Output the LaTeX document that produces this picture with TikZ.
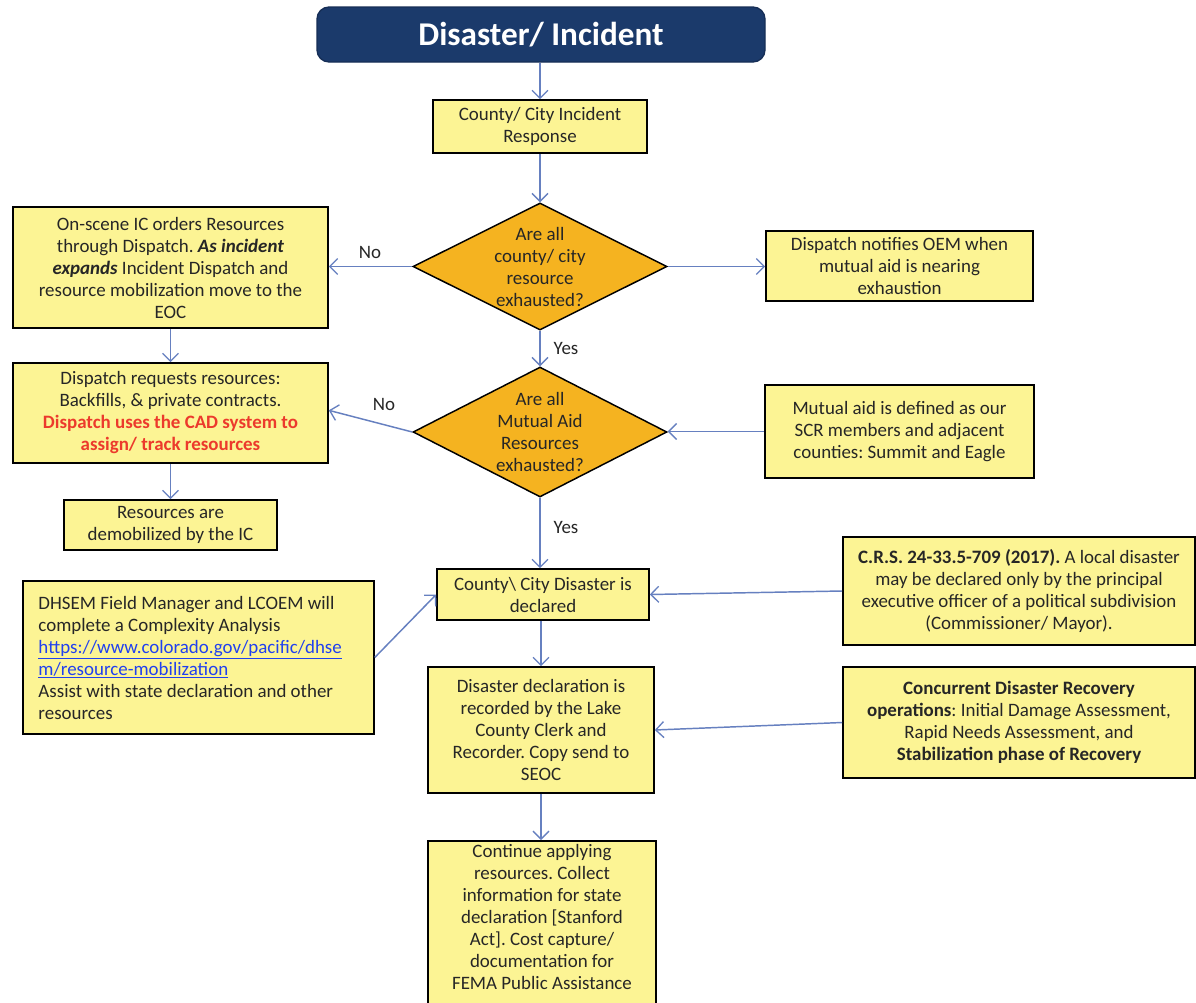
\documentclass[tikz,border=0pt]{standalone}
\usepackage{fontspec}
\setmainfont{Carlito}
\usetikzlibrary{shapes.geometric,arrows.meta}
\definecolor{boxfill}{HTML}{FCF494}
\definecolor{decfill}{HTML}{F5B320}
\definecolor{navy}{HTML}{1B3A6B}
\definecolor{flow}{HTML}{6680C0}
\definecolor{ink}{HTML}{262626}
\definecolor{alert}{HTML}{EC3A2C}
\definecolor{link}{HTML}{2040F0}
\newcommand{\bodyfont}{\fontsize{14.2}{16.5}\selectfont\frenchspacing}
\begin{document}
\begin{tikzpicture}[x=0.75pt,y=-0.75pt,
  box/.style={draw=black, line width=1.2pt, fill=boxfill, inner sep=0pt,
    align=center, font=\bodyfont, text=ink},
  decision/.style={diamond, draw=black, line width=1.1pt, fill=decfill,
    inner sep=0pt, minimum width=190.5pt},
  inside/.style={align=center, font=\bodyfont, text=ink},
  flowarrow/.style={draw=flow, line width=1.1pt,
    -{Straight Barb[length=6pt,width=12pt,line width=1pt]}},
  tag/.style={font=\bodyfont, text=ink}
]
\useasboundingbox[fill=white] (0,0) rectangle (1196,1003);

% header
\node[draw=navy!80!black, fill=navy, rounded corners=9pt, line width=1pt,
  minimum width=336pt, minimum height=41.25pt, inner sep=0pt,
  font=\fontsize{24.9}{28}\selectfont\bfseries, text=white]
  (title) at (541,34.5) {Disaster/ Incident};

% central column
\node[box, minimum width=160.5pt, minimum height=39.75pt] (cresp) at (540,126.5)
  {County/ City Incident\\ Response};
\node[decision, minimum height=95.25pt,
  label={[inside]center:{Are all\\ county/ city\\ resource\\ exhausted?}}]
  (d1) at (540,266.5) {};
\node[decision, minimum height=97.5pt,
  label={[inside]center:{Are all\\ Mutual Aid\\ Resources\\ exhausted?}}]
  (d2) at (540,432) {};
\node[box, minimum width=159pt, minimum height=38.25pt] (decl) at (543,594.5)
  {County\textbackslash{} City Disaster is\\ declared};
\node[box, minimum width=169.5pt, minimum height=94.5pt] (rec) at (541,730)
  {Disaster declaration is\\ recorded by the Lake\\ County Clerk and\\
   Recorder. Copy send to\\ SEOC};
\node[box, anchor=north, minimum width=171pt, minimum height=135pt,
  label={[inside, anchor=north]north:{Continue applying\\ resources. Collect\\
   information for state\\ declaration [Stanford\\ Act]. Cost capture/\\
   documentation for\\ FEMA Public Assistance}}]
  (cont) at (542,840) {};

% left column
\node[box, minimum width=236.25pt, minimum height=90.75pt] (l1) at (170.5,267.5)
  {On-scene IC orders Resources\\
   through Dispatch. \textbf{\textit{As incident}}\\
   \textbf{\textit{expands}} Incident Dispatch and\\
   resource mobilization move to the\\ EOC};
\node[box, minimum width=236.25pt, minimum height=75pt] (l2) at (170.5,413)
  {Dispatch requests resources:\\
   Backfills, \& private contracts.\\
   \textcolor{alert}{\textbf{Dispatch uses the CAD system to}}\\
   \textcolor{alert}{\textbf{assign/ track resources}}};
\node[box, minimum width=159.75pt, minimum height=37.5pt] (l3) at (170.5,525)
  {Resources are\\ demobilized by the IC};
\node[box, align=flush left, text width=240pt, minimum height=114.75pt,
  inner xsep=11.6pt] (dhsem) at (198.5,657.5)
  {DHSEM Field Manager and LCOEM will\\
   complete a Complexity Analysis\\
   \textcolor{link}{\underline{https://www.colorado.gov/pacific/dhse}}\\
   \textcolor{link}{\underline{m/resource-mobilization}}\\
   Assist with state declaration and other\\ resources};

% right column
\node[box, minimum width=200.25pt, minimum height=52.5pt] (r1) at (899.5,266)
  {Dispatch notifies OEM when\\ mutual aid is nearing\\ exhaustion};
\node[box, minimum width=201.75pt, minimum height=69.75pt] (r2) at (899.5,431.5)
  {Mutual aid is defined as our\\ SCR members and adjacent\\
   counties: Summit and Eagle};
\node[box, minimum width=264pt, minimum height=81pt] (crs) at (1019,591)
  {\textbf{C.R.S. 24-33.5-709 (2017).} A local disaster\\
   may be declared only by the principal\\
   executive officer of a political subdivision\\
   (Commissioner/ Mayor).};
\node[box, minimum width=264pt, minimum height=83.25pt] (conc) at (1019,722.5)
  {\textbf{Concurrent Disaster Recovery}\\
   \textbf{operations}: Initial Damage Assessment,\\
   Rapid Needs Assessment, and\\
   \textbf{Stabilization phase of Recovery}};

% connectors
\draw[flowarrow] (cresp.north |- title.south) -- (cresp.north);
\draw[flowarrow] (cresp.south) -- (d1.north);
\draw[flowarrow] (d1.west) -- (d1.west -| l1.east);
\draw[flowarrow] (d1.east) -- (d1.east -| r1.west);
\draw[flowarrow] (d1.south) -- (d2.north);
\draw[flowarrow] (d2.west) -- ([yshift=2pt]l2.east);
\draw[flowarrow] (l1.south) -- (l2.north);
\draw[flowarrow] (l2.south) -- (l3.north);
\draw[flowarrow] (r2.west) -- (r2.west -| d2.east);
\draw[flowarrow] (d2.south) -- (d2.south |- decl.north);
\draw[flowarrow] (dhsem.east) -- (decl.west);
\draw[flowarrow] (crs.west) -- (decl.east);
\draw[flowarrow] (rec.north |- decl.south) -- (rec.north);
\draw[flowarrow] (conc.west) -- (rec.east);
\draw[flowarrow] (rec.south) -- (rec.south |- cont.north);

% branch labels
\node[tag] (no1) at (370,252) {No};
\node[tag] (no2) at (384,404) {No};
\node[tag] (yes1) at (566,348) {Yes};
\node[tag] (yes2) at (566,527) {Yes};
\end{tikzpicture}
\end{document}
